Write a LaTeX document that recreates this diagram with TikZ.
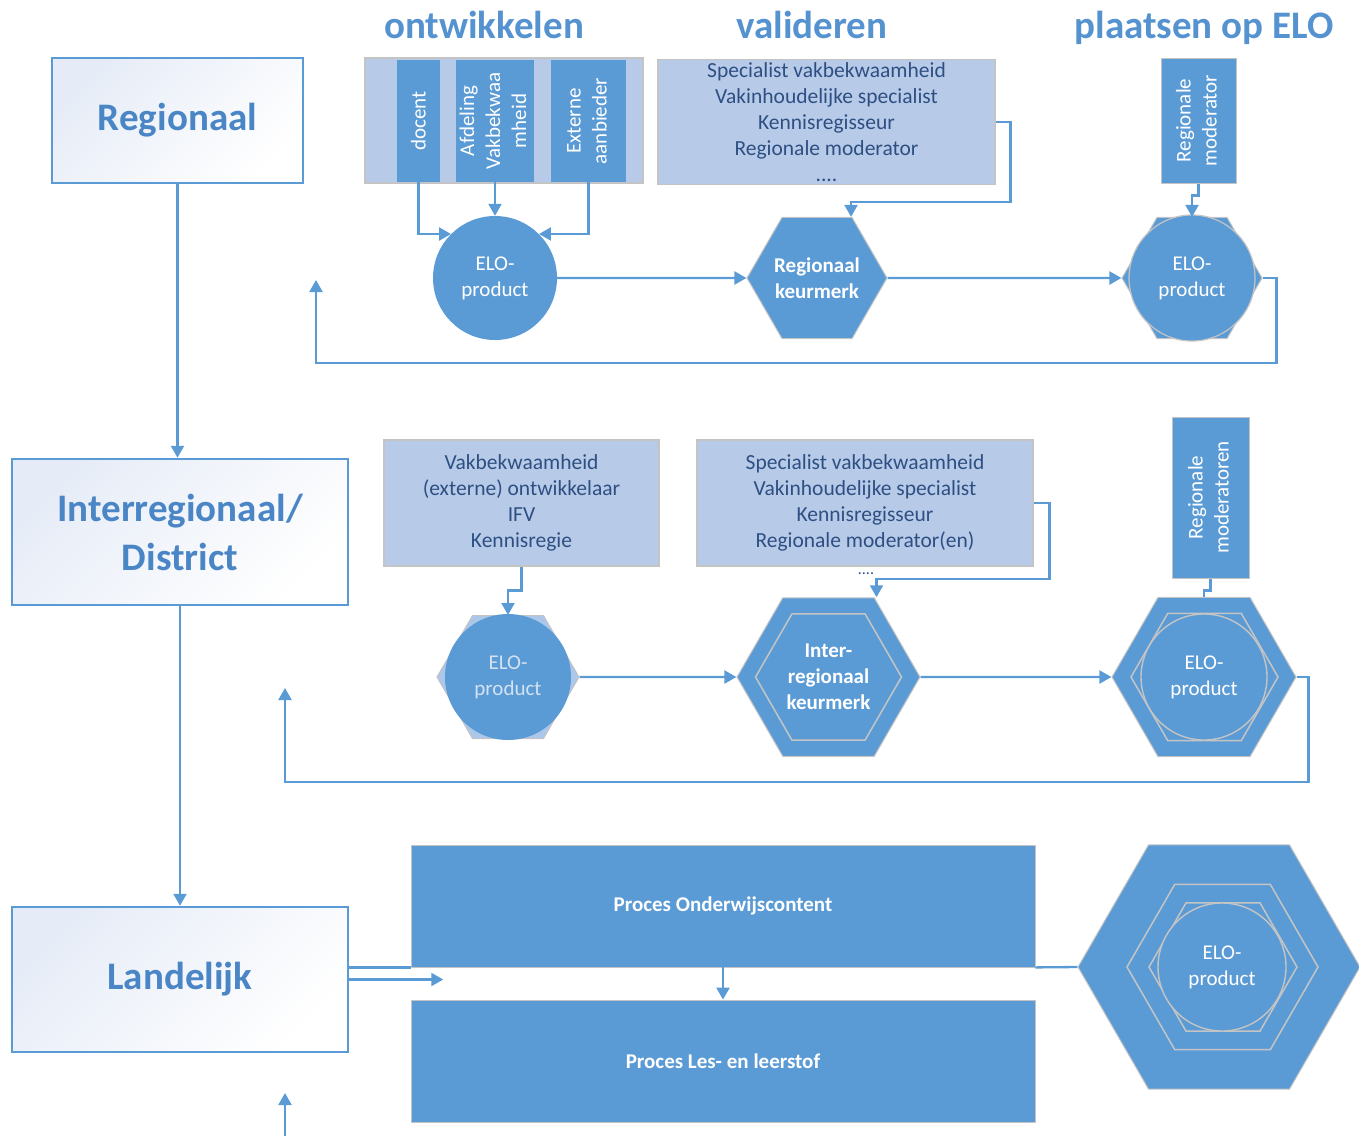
\documentclass[tikz,border=0pt]{standalone}
\usepackage{fontspec}
\setmainfont{Carlito}
\usetikzlibrary{arrows.meta,shapes.geometric,calc}
\definecolor{mblue}{HTML}{5B9BD5}
\definecolor{lblue}{HTML}{B7CBE9}
\definecolor{gborder}{HTML}{C4C4C4}
\definecolor{dtext}{HTML}{2E4F82}
\definecolor{htext}{HTML}{5592D0}
\definecolor{btext}{HTML}{4A86C6}
\definecolor{gradc}{HTML}{E6ECF7}
\definecolor{hexlight}{HTML}{ABC7EA}
\definecolor{fadetext}{HTML}{D3E2F3}
\begin{document}
\begin{tikzpicture}[x=1pt,y=-1pt,
  conn/.style={draw=mblue,line width=2.3pt},
  arr/.style={conn,-{Triangle[length=12pt,width=13pt]}},
  levelbox/.style={draw=mblue,line width=2.5pt,top color=gradc,bottom color=white,shading angle=45,
    text=btext,font=\fontsize{39}{49}\selectfont\bfseries,align=center,inner sep=0pt},
  heading/.style={text=htext,font=\fontsize{39}{47}\selectfont\bfseries,inner sep=0pt,anchor=base},
  lightbox/.style={draw=gborder,fill=lblue,line width=1.2pt,inner sep=0pt,text=dtext,align=center,
    font=\fontsize{21.5}{26}\selectfont},
  bar/.style={fill=mblue,inner sep=0pt,text=white,font=\fontsize{21}{26}\selectfont},
  modbox/.style={bar,draw=gborder,line width=1pt},
  wtext/.style={text=white,align=center,font=\fontsize{21}{26}\selectfont},
  wbold/.style={wtext,font=\fontsize{21}{26}\selectfont\bfseries},
  hexnode/.style={regular polygon,regular polygon sides=6,inner sep=0pt,fill=mblue,draw=gborder,line width=1pt},
  innerhex/.style={regular polygon,regular polygon sides=6,inner sep=0pt,draw=gborder,line width=1.5pt},
  circnode/.style={circle,inner sep=0pt,fill=mblue},
  procbox/.style={fill=mblue,draw=gborder,line width=0.8pt,inner sep=0pt,wbold}
]
\useasboundingbox (0,0) rectangle (1359,1136);

% level boxes
\node[levelbox,minimum width=251,minimum height=125] (reg) at (177.5,120.5) {Regionaal};
\node[levelbox,minimum width=336,minimum height=146] (inter) at (180,532) {Interregionaal/\\District};
\node[levelbox,minimum width=336,minimum height=145] (land) at (180,979.5) {Landelijk};

% headings
\node[heading] (hont) at (484,38) {ontwikkelen};
\node[heading] (hval) at (812,38) {valideren};
\node[heading] (hpla) at (1204,38) {plaatsen op ELO};

% ---------- row 1 ----------
\node[lightbox,minimum width=278,minimum height=125] (cont1) at (504,120.5) {};
\node[bar,minimum width=43,minimum height=122] (doc) at (418.5,121) {\rotatebox{90}{docent}};
\node[bar,minimum width=72,minimum height=122] (afd) at (495,121)
  {\rotatebox{90}{\begin{tabular}{@{}c@{}}Afdeling\\Vakbekwaa\\mheid\end{tabular}}};
\node[bar,minimum width=75,minimum height=122] (ext) at (588.5,121)
  {\rotatebox{90}{\begin{tabular}{@{}c@{}}Externe\\aanbieder\end{tabular}}};

\node[circnode,minimum size=124,wtext] (elo1) at (495,278) {ELO-\\product};

\node[lightbox,minimum width=337,minimum height=125] (val1) at (826.5,122)
  {Specialist vakbekwaamheid\\Vakinhoudelijke specialist\\Kennisregisseur\\Regionale moderator\\....};

\node[hexnode,minimum size=140,wbold] (keur1) at (817,278) {Regionaal\\keurmerk};

\node[modbox,minimum width=75,minimum height=125] (mod1) at (1198.5,120.5)
  {\rotatebox{90}{\begin{tabular}{@{}c@{}}Regionale\\moderator\end{tabular}}};

\node[hexnode,minimum size=140] (elo3) at (1192,278) {};
\node[circnode,draw=gborder,line width=1.2pt,minimum size=126,wtext] (elo3c) at (1192,278) {ELO-\\product};

\draw[arr] (doc.south) |- (elo1.135);
\draw[arr] (afd.south) -- (elo1.north);
\draw[arr] (ext.south) |- (elo1.45);
\draw[arr] (elo1.east) -- (keur1.west);
\draw[arr] (val1.east) -- ++(15,0) |- ([xshift=34pt,yshift=15pt]keur1.north) -- ([xshift=34pt]keur1.north);
\draw[arr] (keur1.east) -- (elo3.west);
\draw[arr] (mod1.south) -- ++(0,12) -| (elo3.north);
\coordinate (loop1end) at (316,280);
\draw[arr] (elo3.east) -- ++(14,0) -- ++(0,85) -| (loop1end);

% ---------- row 2 ----------
\node[lightbox,minimum width=275,minimum height=126] (val2a) at (521.5,503)
  {Vakbekwaamheid\\(externe) ontwikkelaar\\IFV\\Kennisregie};
\node[hexnode,minimum size=142,fill=hexlight] (elo2) at (508,677) {};
\node[circnode,minimum size=126,wtext,text=fadetext] (elo2c) at (508,677) {ELO-\\product};

\node[lightbox,minimum width=336,minimum height=126] (val2b) at (865,503)
  {Specialist vakbekwaamheid\\Vakinhoudelijke specialist\\Kennisregisseur\\Regionale moderator(en)};
\node[text=dtext,font=\fontsize{16}{18}\selectfont,inner sep=0pt] (dots2) at (866,574) {....};

\node[hexnode,minimum size=183,wbold] (keur2) at (828.5,677) {Inter-\\regionaal\\keurmerk};
\node[innerhex,minimum size=146] (keur2in) at (828.5,677) {};

\node[modbox,minimum width=77,minimum height=161] (mod2) at (1210.5,497.5)
  {\rotatebox{90}{\begin{tabular}{@{}c@{}}Regionale\\moderatoren\end{tabular}}};
\node[hexnode,minimum size=184] (elo4) at (1204,677) {};
\node[innerhex,minimum size=147] (elo4in) at (1204.5,677) {};
\node[circnode,draw=gborder,line width=1.4pt,minimum size=126,wtext] (elo4c) at (1204,677) {ELO-\\product};

\draw[arr] (val2a.south) -- ++(0,24) -| (elo2.north);
\draw[arr] (elo2.east) -- (keur2.west);
\draw[arr] (val2b.east) -- ++(16,0) |- ([xshift=48pt,yshift=18pt]keur2.north) -- ([xshift=48pt]keur2.north);
\draw[arr] (keur2.east) -- (elo4.west);
\draw[conn] (mod2.south) -- ++(0,12) -| (elo4.north);
\coordinate (loop2end) at (285,688);
\draw[arr] (elo4.east) -- ++(12,0) -- ++(0,105) -| (loop2end);

% ---------- row 3 ----------
\node[procbox,minimum width=624,minimum height=122] (proc1) at (723,906) {Proces Onderwijscontent};
\node[procbox,minimum width=624,minimum height=122] (proc2) at (723,1061) {Proces Les- en leerstof};

\node[hexnode,minimum size=282] (elo5) at (1219,967) {};
\node[innerhex,minimum size=191] (elo5a) at (1222.5,967) {};
\node[innerhex,minimum size=148] (elo5b) at (1223,967) {};
\node[circnode,draw=gborder,line width=1.4pt,minimum size=128,wtext] (elo5c) at (1222,967) {ELO-\\product};

\draw[arr] (proc1.south) -- (proc2.north);
\draw[conn] (proc1.south east) -- (elo5.west);
\draw[conn] (land.east |- proc1.south west) -- (proc1.south west);
\draw[arr] (land.east) -- ++(94,0);

\draw[arr] (reg.south) -- (reg.south |- inter.north);
\draw[arr] (inter.south) -- (land.north);

\coordinate (botstart) at (285,1136);
\coordinate (botend) at (285,1093);
\draw[arr] (botstart) -- (botend);
\end{tikzpicture}
\end{document}
